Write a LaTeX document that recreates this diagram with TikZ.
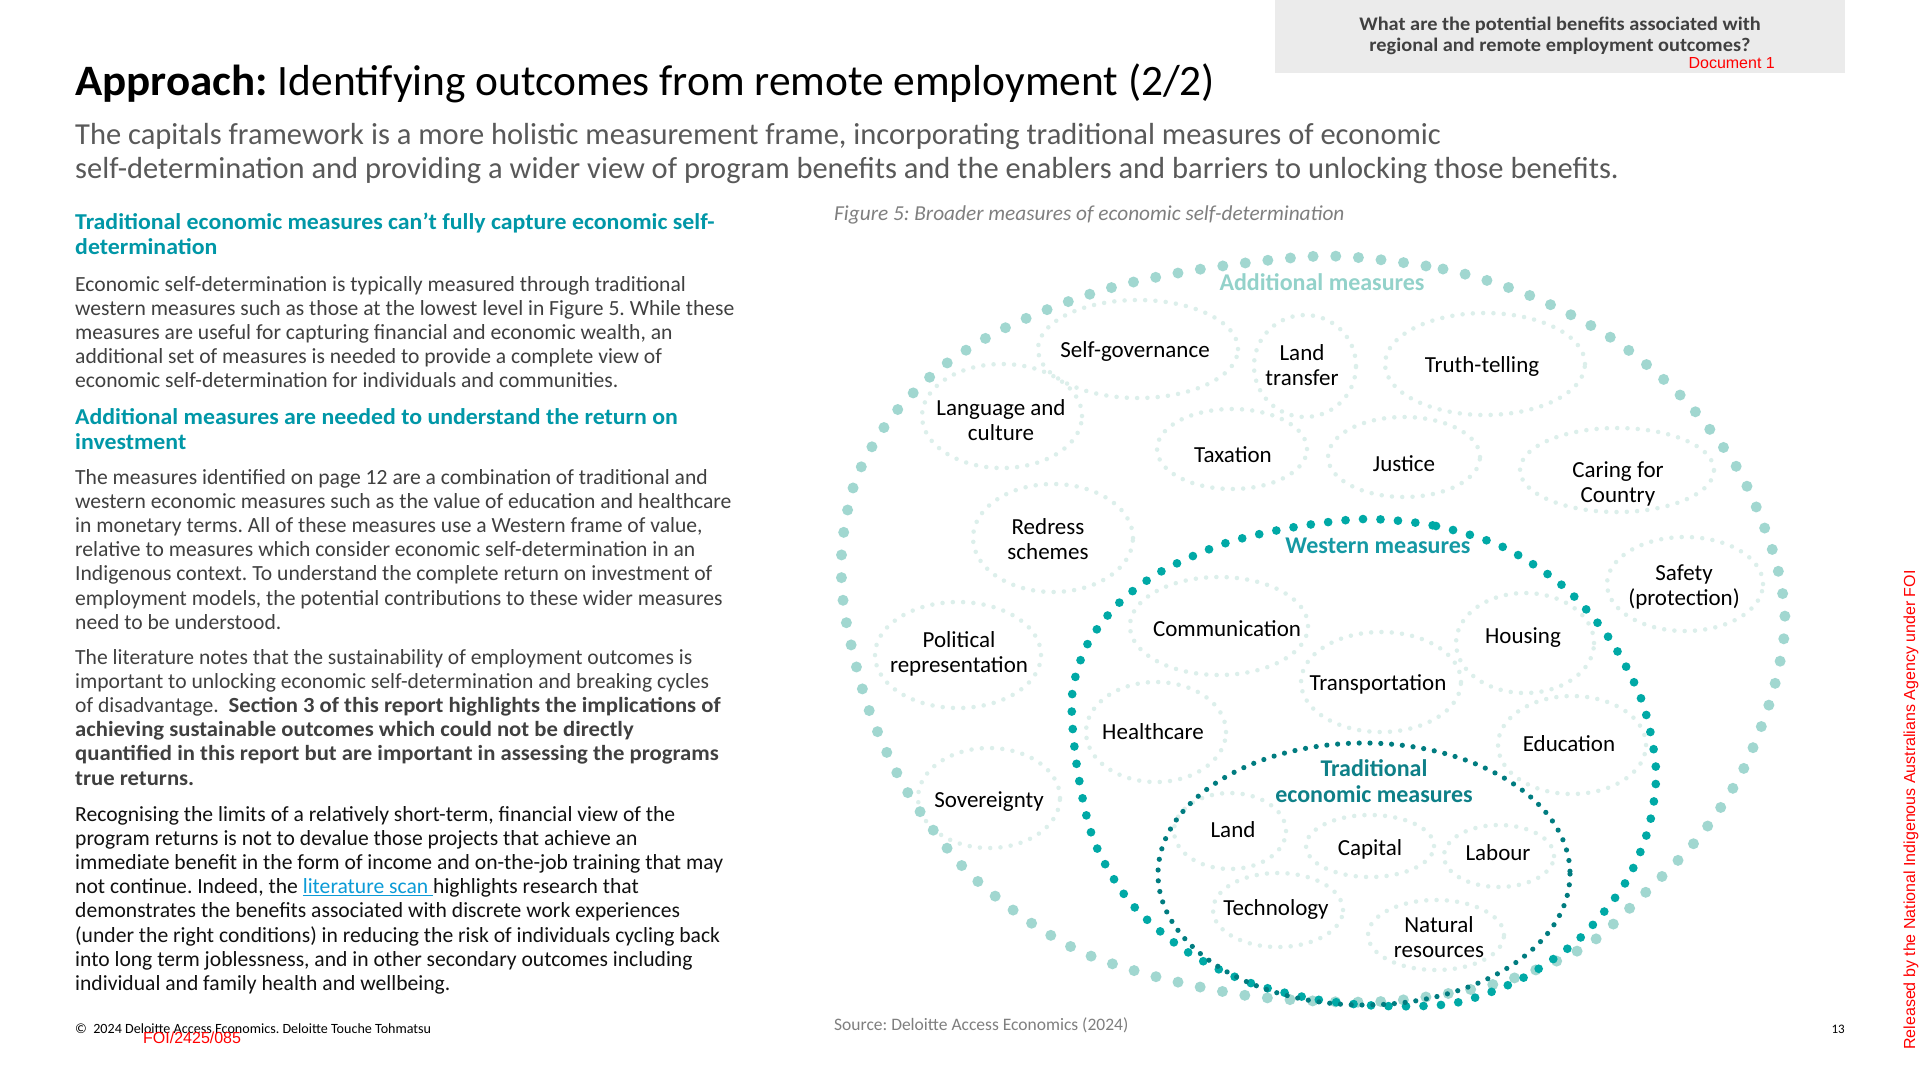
\documentclass[tikz,border=0pt]{standalone}
\usepackage{fontspec}
\setmainfont{Carlito}
\newfontfamily\arialf{Liberation Sans}
\newfontfamily\bfbody{Carlito}[FakeStretch=1.05]
\newfontfamily\bftitle{Carlito}[FakeStretch=1.037]
\newfontfamily\bfbox{Carlito}[FakeStretch=1.06]
\frenchspacing
\usetikzlibrary{shapes.geometric}
\definecolor{bodyc}{HTML}{404040}
\definecolor{darkc}{HTML}{111111}
\definecolor{subtc}{HTML}{595959}
\definecolor{tealh}{HTML}{0097A7}
\definecolor{greyc}{HTML}{7F7F7F}
\definecolor{boxc}{HTML}{EBEBEB}
\definecolor{linkc}{HTML}{0B9BD7}
\definecolor{redc}{HTML}{FF0000}
\definecolor{ringA}{HTML}{A1D7D0}
\definecolor{ringB}{HTML}{00A9A6}
\definecolor{ringC}{HTML}{007C80}
\definecolor{addc}{HTML}{93D2CA}
\definecolor{westc}{HTML}{1599A4}
\definecolor{tradc}{HTML}{0E8088}
\definecolor{subc}{HTML}{DCEFEB}
\newcommand{\bb}[1]{{\bfbody\bfseries #1}}
\begin{document}
\begin{tikzpicture}[x=1pt,y=-1pt,
  body/.style={anchor=base west,inner sep=0pt,font=\fontsize{21.6}{24}\selectfont,text=bodyc},
  bodyk/.style={body,text=darkc},
  head/.style={anchor=base west,inner sep=0pt,font=\bfbody\fontsize{22.7}{25}\selectfont\bfseries,text=tealh},
  subt/.style={anchor=base west,inner sep=0pt,font=\fontsize{30.5}{34}\selectfont,text=subtc},
  lbl/.style={align=center,inner sep=0pt,font=\fontsize{23}{24.5}\selectfont,text=black},
  ringlbl/.style={align=center,inner sep=0pt,font=\fontsize{24}{25.5}\selectfont\bfseries},
  subell/.style={ellipse,draw=subc,line width=4.5pt,dash pattern=on 0pt off 10.3pt,line cap=round,inner sep=0pt},
  ringone/.style={draw=ringA,line width=11pt,dash pattern=on 0pt off 22.7pt,line cap=round},
  ringtwo/.style={draw=ringB,line width=8.7pt,dash pattern=on 0pt off 17.5pt,line cap=round},
  ringthree/.style={draw=ringC,line width=5.2pt,dash pattern=on 0pt off 10.8pt,line cap=round}
]
\useasboundingbox (0,0) rectangle (1920,1080);
\fill[white] (0,0) rectangle (1920,1080);

% top right question box
\node[fill=boxc,minimum width=570,minimum height=73,inner sep=0pt,anchor=north west] (qbox) at (1275,0) {};
\node[inner sep=0pt,anchor=base,font=\bfbox\fontsize{19.2}{21}\selectfont\bfseries,text=bodyc] (q1) at (1560,30.5) {What are the potential benefits associated with};
\node[inner sep=0pt,anchor=base,font=\bfbox\fontsize{19.2}{21}\selectfont\bfseries,text=bodyc] (q2) at (1560,51.5) {regional and remote employment outcomes?};
\node[inner sep=0pt,anchor=base east,font=\arialf\fontsize{16}{18}\selectfont,text=redc] (doc) at (1775,68) {Document 1};

% title and subtitle
\node[anchor=base west,inner sep=0pt,font=\fontsize{43.4}{50}\selectfont,text=black] (title) at (75,95) {{\bftitle\bfseries Approach:} Identifying outcomes from remote employment (2/2)};
\node[subt] (s1) at (75,144) {The capitals framework is a more holistic measurement frame, incorporating traditional measures of economic};
\node[subt] (s2) at (75,178) {self-determination and providing a wider view of program benefits and the enablers and barriers to unlocking those benefits.};

% left column
\node[head] (h1a) at (75,229) {Traditional economic measures can’t fully capture economic self-};
\node[head] (h1b) at (75,254) {determination};
\node[body] (p1a) at (75,291) {Economic self-determination is typically measured through traditional};
\node[body] (p1b) at (75,315.2) {western measures such as those at the lowest level in Figure 5. While these};
\node[body] (p1c) at (75,339.4) {measures are useful for capturing financial and economic wealth, an};
\node[body] (p1d) at (75,363.6) {additional set of measures is needed to provide a complete view of};
\node[body] (p1e) at (75,387.8) {economic self-determination for individuals and communities.};
\node[head] (h2a) at (75,424) {Additional measures are needed to understand the return on};
\node[head] (h2b) at (75,449) {investment};
\node[body] (p2a) at (75,484) {The measures identified on page 12 are a combination of traditional and};
\node[body] (p2b) at (75,508.2) {western economic measures such as the value of education and healthcare};
\node[body] (p2c) at (75,532.4) {in monetary terms. All of these measures use a Western frame of value,};
\node[body] (p2d) at (75,556.6) {relative to measures which consider economic self-determination in an};
\node[body] (p2e) at (75,580.8) {Indigenous context. To understand the complete return on investment of};
\node[body] (p2f) at (75,605) {employment models, the potential contributions to these wider measures};
\node[body] (p2g) at (75,629.2) {need to be understood.};
\node[body] (p3a) at (75,664) {The literature notes that the sustainability of employment outcomes is};
\node[body] (p3b) at (75,688.2) {important to unlocking economic self-determination and breaking cycles};
\node[body] (p3c) at (75,712.4) {of disadvantage.\ \ \bb{Section 3 of this report highlights the implications of}};
\node[body] (p3d) at (75,736.6) {\bb{achieving sustainable outcomes which could not be directly}};
\node[body] (p3e) at (75,760.8) {\bb{quantified in this report but are important in assessing the programs}};
\node[body] (p3f) at (75,785) {\bb{true returns.}};
\node[bodyk] (p4a) at (75,821) {Recognising the limits of a relatively short-term, financial view of the};
\node[bodyk] (p4b) at (75,845.2) {program returns is not to devalue those projects that achieve an};
\node[bodyk] (p4c) at (75,869.4) {immediate benefit in the form of income and on-the-job training that may};
\node[bodyk] (p4d) at (75,893.6) {not continue. Indeed, the \textcolor{linkc}{\underline{literature scan\ }}highlights research that};
\node[bodyk] (p4e) at (75,917.8) {demonstrates the benefits associated with discrete work experiences};
\node[bodyk] (p4f) at (75,942) {(under the right conditions) in reducing the risk of individuals cycling back};
\node[bodyk] (p4g) at (75,966.2) {into long term joblessness, and in other secondary outcomes including};
\node[bodyk] (p4h) at (75,990.4) {individual and family health and wellbeing.};

% footer
\node[anchor=base west,inner sep=0pt,font=\fontsize{14.1}{16}\selectfont,text=black] (copy) at (75,1033) {©\ \ 2024 Deloitte Access Economics. Deloitte Touche Tohmatsu};
\node[anchor=base west,inner sep=0pt,font=\arialf\fontsize{16}{18}\selectfont,text=redc] (foi) at (143,1043) {FOI/2425/085};
\node[anchor=base west,inner sep=0pt,font=\fontsize{17.5}{19}\selectfont,text=greyc] (src) at (834,1030) {Source: Deloitte Access Economics (2024)};
\node[anchor=base east,inner sep=0pt,font=\fontsize{13}{15}\selectfont,text=black] (pg) at (1845,1033) {13};
\node[rotate=90,inner sep=0pt,font=\arialf\fontsize{16}{18}\selectfont,text=redc] (rel) at (1911,810) {Released by the National Indigenous Australians Agency under FOI};

% figure caption
\node[anchor=base west,inner sep=0pt,font=\fontsize{21.3}{24}\selectfont\itshape,text=greyc] (cap) at (834,220.5) {Figure 5: Broader measures of economic self-determination};

% sub ellipses (additional)
\node[subell,minimum width=200,minimum height=98] (e-sg) at (1138,349) {};
\node[subell,minimum width=102,minimum height=102] (e-lt) at (1305,366) {};
\node[subell,minimum width=200,minimum height=102] (e-tt) at (1485,364) {};
\node[subell,minimum width=160,minimum height=104] (e-lc) at (1002,416) {};
\node[subell,minimum width=150,minimum height=80] (e-tax) at (1232,449) {};
\node[subell,minimum width=152,minimum height=80] (e-jus) at (1404,457) {};
\node[subell,minimum width=194,minimum height=84] (e-cfc) at (1617,470) {};
\node[subell,minimum width=156,minimum height=94] (e-saf) at (1685,584) {};
\node[subell,minimum width=160,minimum height=108] (e-red) at (1053,538) {};
\node[subell,minimum width=166,minimum height=106] (e-pol) at (958,655) {};
\node[subell,minimum width=142,minimum height=100] (e-sov) at (989,798) {};
% sub ellipses (western)
\node[subell,minimum width=178,minimum height=98] (e-com) at (1219,626) {};
\node[subell,minimum width=160,minimum height=100] (e-tra) at (1381,682) {};
\node[subell,minimum width=138,minimum height=100] (e-hou) at (1525,643) {};
\node[subell,minimum width=140,minimum height=100] (e-hea) at (1156,732) {};
\node[subell,minimum width=148,minimum height=98] (e-edu) at (1572,745) {};
% sub ellipses (traditional)
\node[subell,minimum width=112,minimum height=76] (e-land) at (1230,831) {};
\node[subell,minimum width=128,minimum height=62] (e-cap) at (1370,846) {};
\node[subell,minimum width=110,minimum height=62] (e-lab) at (1499,856) {};
\node[subell,minimum width=130,minimum height=74] (e-tech) at (1278,910) {};
\node[subell,minimum width=136,minimum height=70] (e-nat) at (1436,935) {};

% rings
\draw[ringone] plot[smooth cycle] coordinates {(1329,256) (1443,269) (1531,296) (1613,339) (1683,398) (1739,471) (1774,555) (1785,623) (1772,695) (1742,772) (1700,836) (1645,893) (1586,946) (1502,982) (1411,999) (1343,1002) (1250,996) (1161,978) (1086,954) (1024,918) (963,867) (908,793) (869,710) (845,615) (842,547) (856,479) (890,419) (938,370) (995,333) (1059,305) (1125,284) (1215,267)};
\draw[ringtwo] plot[smooth cycle] coordinates {(1366,519) (1436,526) (1503,547) (1563,586) (1609,638) (1642,701) (1656,770) (1648,830) (1624,885) (1579,939) (1521,979) (1455,1003) (1384,1006) (1314,999) (1245,981) (1183,949) (1130,902) (1094,841) (1077,767) (1072,696) (1087,645) (1119,603) (1162,571) (1226,543) (1295,527)};
\draw[ringthree] (1364,874) ellipse [x radius=206, y radius=131];

% ring titles
\node[ringlbl,text=addc] (t-add) at (1322,282) {Additional measures};
\node[ringlbl,text=westc] (t-west) at (1378,546) {Western measures};
\node[ringlbl,text=tradc] (t-trad) at (1374,781) {Traditional\\economic measures};

% labels
\node[lbl] (l-sg) at (1135,351) {Self-governance};
\node[lbl] (l-lt) at (1302,365) {Land\\transfer};
\node[lbl] (l-tt) at (1482,366) {Truth-telling};
\node[lbl] (l-lc) at (1001,420) {Language and\\culture};
\node[lbl] (l-tax) at (1233,455) {Taxation};
\node[lbl] (l-jus) at (1404,464) {Justice};
\node[lbl] (l-cfc) at (1618,484) {Caring for\\Country};
\node[lbl] (l-red) at (1048,539) {Redress\\schemes};
\node[lbl] (l-saf) at (1684,587) {Safety\\(protection)};
\node[lbl] (l-pol) at (959,654) {Political\\representation};
\node[lbl] (l-sov) at (989,802) {Sovereignty};
\node[lbl] (l-com) at (1227,629) {Communication};
\node[lbl] (l-hou) at (1523,638) {Housing};
\node[lbl] (l-tra) at (1378,684) {Transportation};
\node[lbl] (l-hea) at (1153,732) {Healthcare};
\node[lbl] (l-edu) at (1569,744) {Education};
\node[lbl] (l-land) at (1233,830) {Land};
\node[lbl] (l-cap) at (1370,849) {Capital};
\node[lbl] (l-lab) at (1498,853) {Labour};
\node[lbl] (l-tech) at (1276,909) {Technology};
\node[lbl] (l-nat) at (1439,937) {Natural\\resources};
\end{tikzpicture}
\end{document}
